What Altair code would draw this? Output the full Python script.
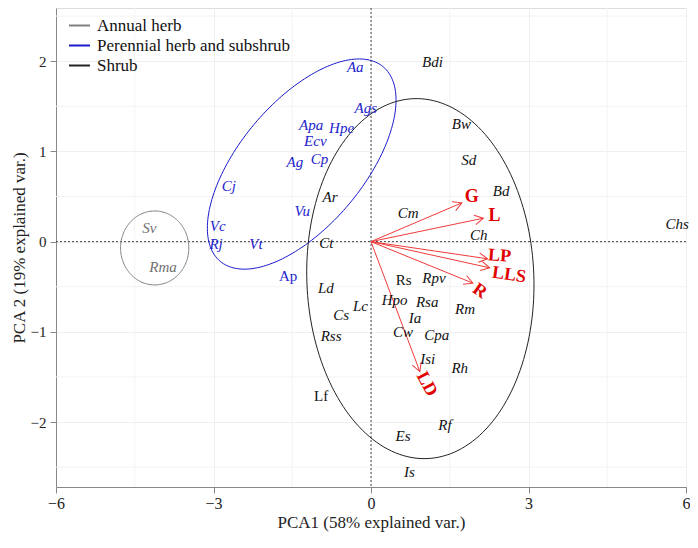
import math
import numpy as np
import pandas as pd
import altair as alt

# ---------------- data ----------------
species = ["Sv", "Rma",
           "Aa", "Ags", "Apa", "Hpe", "Ecv", "Cp", "Ag", "Cj", "Vu", "Vc", "Rj", "Vt", "Ap",
           "Bdi", "Bw", "Sd", "Bd", "Chs", "Cm", "Ch", "Ar", "Ct", "Ld", "Lc", "Cs", "Rss",
           "Rs", "Rpv", "Hpo", "Rsa", "Ia", "Cw", "Cpa", "Rm", "Isi", "Rh", "Lf", "Rf", "Es", "Is"]
pc1 = [-4.22, -3.96,
       -0.30, -0.10, -1.14, -0.56, -1.06, -0.98, -1.45, -2.71, -1.31, -2.92, -2.95, -2.19, -1.58,
       1.17, 1.72, 1.86, 2.48, 5.83, 0.71, 2.05, -0.78, -0.85, -0.86, -0.20, -0.57, -0.76,
       0.62, 1.20, 0.45, 1.07, 0.84, 0.61, 1.25, 1.79, 1.08, 1.69, -0.95, 1.41, 0.61, 0.73]
pc2 = [0.15, -0.28,
       1.94, 1.48, 1.29, 1.26, 1.12, 0.92, 0.88, 0.62, 0.34, 0.17, -0.03, -0.03, -0.38,
       1.99, 1.30, 0.91, 0.56, 0.20, 0.32, 0.07, 0.50, -0.02, -0.51, -0.71, -0.81, -1.05,
       -0.42, -0.40, -0.65, -0.67, -0.85, -1.00, -1.03, -0.75, -1.30, -1.40, -1.71, -2.03, -2.16, -2.55]
group = (["Annual herb"] * 2 + ["Perennial herb and subshrub"] * 13 + ["Shrub"] * 27)
upright = ["Ap", "Rs", "Lf"]

groups = ["Annual herb", "Perennial herb and subshrub", "Shrub"]
group_line_colors = ["#808080", "#1a1acc", "#222222"]
group_text_colors = {"Annual herb": "#707070", "Perennial herb and subshrub": "#2323cc", "Shrub": "#111111"}

# ellipses: centre, major semi-axis vector, minor semi-axis vector (data units)
ell_center = {"Annual herb": (-4.12, -0.07), "Perennial herb and subshrub": (-1.32, 0.86), "Shrub": (0.94, -0.41)}
ell_u = {"Annual herb": (0.65, 0.0), "Perennial herb and subshrub": (1.553, 1.078), "Shrub": (-0.125, 1.995)}
ell_v = {"Annual herb": (0.0, 0.41), "Perennial herb and subshrub": (-0.904, 0.442), "Shrub": (2.161, 0.046)}

# loadings (arrows)
traits = ["G", "L", "LP", "LLS", "R", "LD"]
load_x = [1.73, 2.14, 2.22, 2.26, 1.94, 0.93]
load_y = [0.43, 0.26, -0.19, -0.29, -0.46, -1.44]
lab_x = [1.92, 2.35, 2.45, 2.63, 2.07, 1.06]
lab_y = [0.50, 0.28, -0.16, -0.37, -0.55, -1.58]
lab_angle = [0, 0, 4, 8, 35, 62]

# ---------------- layout ----------------
W, H = 630, 479
XD = [-6, 6]
YD = [-2.72, 2.59]
SERIF = "Liberation Serif"
kx = W / (XD[1] - XD[0])
ky = H / (YD[1] - YD[0])

xs = alt.Scale(domain=XD, nice=False, zero=False)
ys = alt.Scale(domain=YD, nice=False, zero=False)
xaxis = alt.Axis(title="PCA1 (58% explained var.)", values=[-6, -3, 0, 3, 6], grid=True,
                 gridColor="#efefef", domainColor="#888888", tickColor="#888888", tickSize=6,
                 labelFont=SERIF, labelFontSize=16, labelColor="#222222", labelPadding=2,
                 titleFont=SERIF, titleFontSize=17, titleFontWeight="normal", titleColor="#222222",
                 titlePadding=3, labelFlush=False)
yaxis = alt.Axis(title="PCA 2 (19% explained var.)", values=[-2, -1, 0, 1, 2], grid=True,
                 gridColor="#efefef", domainColor="#888888", tickColor="#888888", tickSize=6,
                 labelFont=SERIF, labelFontSize=15, labelColor="#222222", labelPadding=4,
                 titleFont=SERIF, titleFontSize=17, titleFontWeight="normal", titleColor="#222222",
                 titleX=-37, titleBaseline="middle", labelFlush=False)


def X(f):
    return alt.X(f, type="quantitative", scale=xs, axis=xaxis)


def Y(f):
    return alt.Y(f, type="quantitative", scale=ys, axis=yaxis)


# ---------------- tables ----------------
sp = pd.DataFrame({"name": species, "x": pc1, "y": pc2, "group": group})
sp["col"] = sp["group"].map(group_text_colors)
sp_it = sp[~sp["name"].isin(upright)]
sp_up = sp[sp["name"].isin(upright)]

rows = []
tt = np.linspace(0, 2 * np.pi, 181)
for g in groups:
    cx, cy = ell_center[g]
    ux, uy = ell_u[g]
    vx, vy = ell_v[g]
    for i, t in enumerate(tt):
        rows.append({"group": g, "i": i,
                     "x": cx + ux * math.cos(t) + vx * math.sin(t),
                     "y": cy + uy * math.cos(t) + vy * math.sin(t)})
ell = pd.DataFrame(rows)

arr = pd.DataFrame({"trait": traits, "x0": 0.0, "y0": 0.0, "x": load_x, "y": load_y,
                    "lx": lab_x, "ly": lab_y, "la": lab_angle})
arr["ang"] = [(math.degrees(math.atan2(-dy * ky, dx * kx)) + 360) % 360 for dx, dy in zip(load_x, load_y)]

minor_x = pd.DataFrame({"x": [-4.5, -1.5, 1.5, 4.5]})
minor_y = pd.DataFrame({"y": [-2.5, -1.5, -0.5, 0.5, 1.5, 2.5]})
zero = pd.DataFrame({"x": [0.0], "y": [0.0]})

# ---------------- layers ----------------
gx = alt.Chart(minor_x).mark_rule(color="#f3f3f3", strokeWidth=1).encode(x=X("x"))
gy = alt.Chart(minor_y).mark_rule(color="#f3f3f3", strokeWidth=1).encode(y=Y("y"))
zx = alt.Chart(zero).mark_rule(color="#444444", strokeWidth=1, strokeDash=[2, 2]).encode(x=X("x"))
zy = alt.Chart(zero).mark_rule(color="#444444", strokeWidth=1, strokeDash=[2, 2]).encode(y=Y("y"))

ellipses = alt.Chart(ell).mark_line(strokeWidth=1).encode(
    x=X("x"), y=Y("y"), order=alt.Order("i:Q"),
    color=alt.Color("group:N", scale=alt.Scale(domain=groups, range=group_line_colors),
                    legend=alt.Legend(title=None, orient="none", legendX=12, legendY=6,
                                      symbolType="stroke", symbolSize=441, symbolStrokeWidth=2,
                                      labelFont=SERIF, labelFontSize=17, labelColor="#111111",
                                      rowPadding=0, labelOffset=6, padding=0,
                                      labelLimit=400)))

txt_it = alt.Chart(sp_it).mark_text(font=SERIF, fontStyle="italic", fontSize=15,
                                    align="center", baseline="middle").encode(
    x=X("x"), y=Y("y"), text="name:N", color=alt.Color("col:N", scale=None))
txt_up = alt.Chart(sp_up).mark_text(font=SERIF, fontSize=15, align="center",
                                    baseline="middle").encode(
    x=X("x"), y=Y("y"), text="name:N", color=alt.Color("col:N", scale=None))

shafts = alt.Chart(arr).mark_rule(color="#ee3b3b", strokeWidth=1).encode(
    x=X("x0"), y=Y("y0"), x2="x", y2="y")
heads = alt.Chart(arr).mark_point(shape="M -1 -0.55 L 0 0 L -1 0.55", filled=False, size=300,
                                  color="#ee3b3b", strokeWidth=1, opacity=1).encode(
    x=X("x"), y=Y("y"), angle=alt.Angle("ang:Q", scale=None))
arr_txt = alt.Chart(arr).mark_text(font=SERIF, fontWeight="bold", fontSize=18, color="#e00000",
                                   align="center", baseline="middle").encode(
    x=X("lx"), y=Y("ly"), text="trait:N", angle=alt.Angle("la:Q", scale=None))

chart = alt.layer(gx, gy, zx, zy, ellipses, shafts, heads, txt_it, txt_up, arr_txt).properties(
    width=W, height=H,
    autosize=alt.AutoSizeParams(type="none"),
    padding={"left": 48, "top": 0, "right": 4, "bottom": 49},
).configure_view(stroke="#888888", strokeWidth=1).configure_legend(
    labelFont=SERIF, labelFontSize=17
).configure(background="white")

chart.save("out.html", embed_options={"renderer": "svg", "actions": False})
